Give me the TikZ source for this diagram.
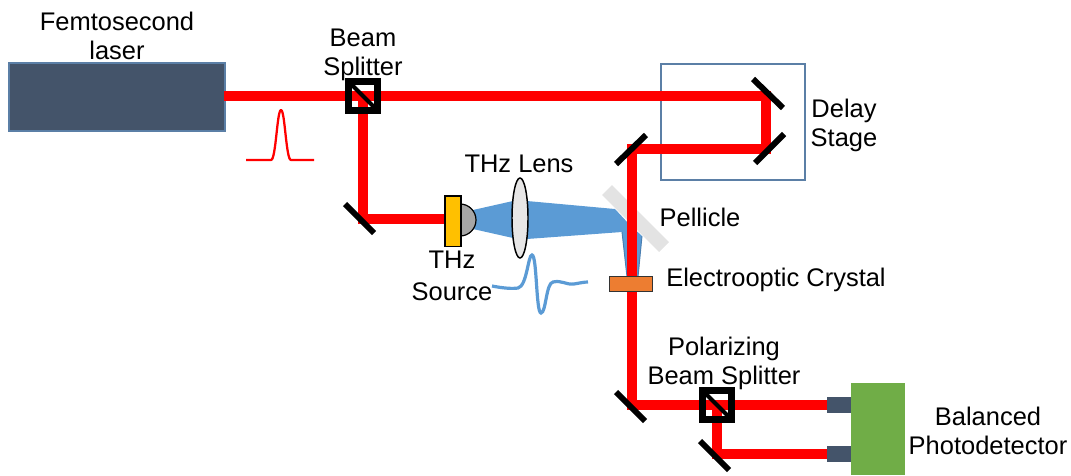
\documentclass[tikz,border=0pt]{standalone}
\usepackage{fontspec}
\usetikzlibrary{shapes.geometric}
\setmainfont{Liberation Sans}
\definecolor{slate}{HTML}{44546A}
\definecolor{edgeblue}{HTML}{5B7FA6}
\definecolor{thzblue}{HTML}{5B9BD5}
\definecolor{thzdark}{HTML}{4A7EB0}
\definecolor{amber}{HTML}{FFC000}
\definecolor{orangec}{HTML}{ED7D31}
\definecolor{greenb}{HTML}{70AD47}
\definecolor{pell}{HTML}{E3E3E3}
\definecolor{lensg}{HTML}{E7E6E6}
\definecolor{domeg}{HTML}{A6A6A6}
\tikzset{
  x=0.75pt,y=-0.75pt,
  beam/.style={draw=red,line width=6.9pt,line join=miter},
  mirror/.style={draw=black,line width=4.5pt},
  splitter/.style={draw=black,line width=5.6pt,minimum size=21.5pt,inner sep=0pt,outer sep=0pt},
  splitdiag/.style={draw=black,line width=3pt},
  port/.style={fill=slate,draw=none,inner sep=0pt,outer sep=0pt,minimum width=18pt,minimum height=12pt},
  lbl/.style={font=\fontsize{19.1}{21.75}\selectfont,align=center,inner sep=0pt,text=black},
}
\begin{document}
\begin{tikzpicture}
\useasboundingbox (0,0) rectangle (1071,475);
% free beam and mirror coordinates
\coordinate (lasEnd) at (224,96);
\coordinate (m1) at (363,219);
\coordinate (m2) at (766,96);
\coordinate (m3) at (766,149);
\coordinate (m4) at (632,149);
\coordinate (m5) at (632,405);
\coordinate (m6) at (717,454);
% pellicle under everything
\coordinate (pa) at (607,190);
\coordinate (pb) at (664,247);
\draw[pell,line width=10.5pt] (pa) -- (pb);
% stage box
\node[draw=edgeblue,line width=1.2pt,minimum width=108pt,minimum height=87pt,inner sep=0pt,anchor=north west] (stage) at (660,63) {};
% laser
\node[fill=slate,draw=edgeblue,line width=1.2pt,minimum width=162pt,minimum height=51pt,inner sep=0pt,anchor=north west] (laser) at (8,62) {};
% detector
\node[fill=greenb,minimum width=40.5pt,minimum height=69pt,inner sep=0pt,anchor=north west] (det) at (851,383) {};
\node[port,anchor=east] (p1) at (851,405) {};
\node[port,anchor=east] (p2) at (851,454) {};
% THz beam
\fill[thzblue] (473,210) -- (513,201) -- (527,201) -- (615,209) -- (628,223) -- (642,236) -- (638,277) -- (627,277) -- (622,232) -- (527,239) -- (513,238) -- (473,229) -- cycle;
\draw[thzdark,line width=0.7pt] (622,232) -- (627,277) (642,236) -- (638,277);
% splitters placed first for anchors
\node[splitter] (bs1) at (363,96) {};
\node[splitter] (bs2) at (717,405) {};
% source
\filldraw[fill=domeg,draw=black,line width=0.9pt] (460,204) arc[start angle=-90,end angle=90,radius=16] -- cycle;
% beams
\draw[beam] (lasEnd) -- (bs1.center) -- (m2) -- (m3) -- (m4) -- (m5) -- (p1.west);
\draw[beam] (bs1.center) -- (m1) -- (445,219);
\draw[beam] (bs2.center) -- (m6) -- (p2.west);
% source body
\node[fill=amber,draw=black,line width=1.2pt,minimum width=12pt,minimum height=38pt,inner sep=0pt,anchor=north west] (src) at (444,195) {};
% lens
\node[ellipse,fill=lensg,draw=black,line width=1.1pt,minimum width=12pt,minimum height=60pt,inner sep=0pt] (lens) at (520,218) {};
% crystal
\node[fill=orangec,draw=black!80,line width=1.1pt,minimum width=32pt,minimum height=11pt,inner sep=0pt,anchor=north west] (xtal) at (609,276) {};
% splitters re-drawn on top
\node[splitter] at (bs1) {};
\node[splitter] at (bs2) {};
\draw[splitdiag] (bs1.north west) -- (bs1.south east);
\draw[splitdiag] (bs2.north west) -- (bs2.south east);
% mirrors
\draw[mirror] (345,204) -- (374,233);
\draw[mirror] (753,79) -- (783,108);
\draw[mirror] (755,163) -- (784,134);
\draw[mirror] (616,164) -- (646,135);
\draw[mirror] (616,392) -- (645,421);
\draw[mirror] (700,441) -- (729,470);
% pulses
\draw[red,line width=1.7pt,line join=round] (246,160) -- (271,160) .. controls (276,160) and (277,110) .. (281,110) .. controls (285,110) and (286,160) .. (291,160) -- (314,160);
\draw[thzblue,line width=2.4pt] (492,286) .. controls (502,288) and (512,289) .. (518,288) .. controls (527,286) and (528,255) .. (532,255) .. controls (537,255) and (536,313) .. (541,313) .. controls (546,313) and (546,283) .. (553,282) .. controls (562,280) and (566,285) .. (574,284) .. controls (580,283) and (584,282) .. (588,282);
% labels
\node[lbl] (tLaser) at (117,36) {Femtosecond\\laser};
\node[lbl] (tBS) at (363,55) {Beam\\Splitter};
\node[lbl] (tLens) at (519,164) {THz Lens};
\node[lbl] (tSrc) at (452,276) {THz\\[2.2pt]Source};
\node[lbl] (tPel) at (700,217) {Pellicle};
\node[lbl] (tEO) at (776,280) {Electrooptic Crystal};
\node[lbl] (tStage) at (844,125) {Delay\\Stage};
\node[lbl] (tPBS) at (724,363) {Polarizing\\Beam Splitter};
\node[lbl] (tDet) at (988,431) {Balanced\\Photodetector};
\end{tikzpicture}
\end{document}
